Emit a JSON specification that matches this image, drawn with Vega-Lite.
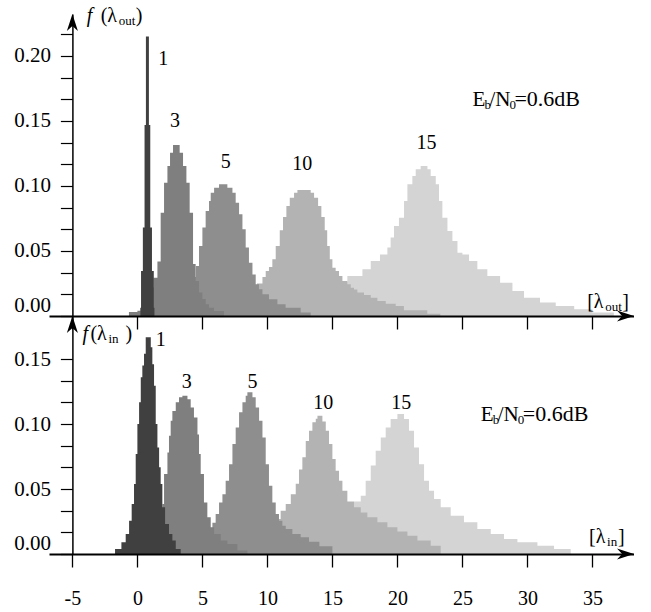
{
  "$schema": "https://vega.github.io/schema/vega-lite/v6.json",
  "autosize": {"type": "pad"},
  "padding": {"left": 13, "top": 5, "right": 0, "bottom": 0},
  "spacing": 0,
  "bounds": "flush",
  "config": {
    "view": {"stroke": null},
    "font": "Liberation Serif",
    "axis": {"domainColor": "black", "tickColor": "black", "labelColor": "black", "labelFont": "Liberation Serif", "grid": false},
    "text": {"font": "Liberation Serif", "color": "black"}
  },
  "datasets": {
    "out1": [{"x":0.23,"y":0.0064},{"x":0.28,"y":0.0346},{"x":0.42,"y":0.068},{"x":0.55,"y":0.147},{"x":0.655,"y":0.215},{"x":0.885,"y":0.147},{"x":0.99,"y":0.068},{"x":1.12,"y":0.0346},{"x":1.26,"y":0.0064},{"x":1.31,"y":0}],
    "out3": [{"x":-0.65,"y":0.003},{"x":0.0,"y":0.004},{"x":0.25,"y":0.006},{"x":0.5,"y":0.01},{"x":0.75,"y":0.015},{"x":1.0,"y":0.022},{"x":1.23,"y":0.0295},{"x":1.54,"y":0.042},{"x":1.79,"y":0.0795},{"x":2.05,"y":0.1025},{"x":2.31,"y":0.1154},{"x":2.51,"y":0.1256},{"x":2.74,"y":0.1315},{"x":3.25,"y":0.1256},{"x":3.51,"y":0.1154},{"x":3.77,"y":0.1025},{"x":4.02,"y":0.0795},{"x":4.28,"y":0.04},{"x":4.48,"y":0.027},{"x":4.74,"y":0.018},{"x":5.0,"y":0.013},{"x":5.25,"y":0.009},{"x":5.51,"y":0.0064},{"x":5.89,"y":0.0038},{"x":6.66,"y":0}],
    "out5": [{"x":2.5,"y":0.002},{"x":2.75,"y":0.003},{"x":3.0,"y":0.006},{"x":3.25,"y":0.009},{"x":3.5,"y":0.013},{"x":3.75,"y":0.018},{"x":4.0,"y":0.024},{"x":4.25,"y":0.03},{"x":4.5,"y":0.0385},{"x":4.74,"y":0.0538},{"x":5.0,"y":0.068},{"x":5.25,"y":0.0808},{"x":5.51,"y":0.0885},{"x":5.64,"y":0.0949},{"x":5.9,"y":0.0987},{"x":6.28,"y":0.1013},{"x":6.92,"y":0.0987},{"x":7.31,"y":0.0949},{"x":7.56,"y":0.0872},{"x":7.82,"y":0.0782},{"x":8.08,"y":0.0667},{"x":8.33,"y":0.0526},{"x":8.58,"y":0.041},{"x":8.85,"y":0.032},{"x":9.1,"y":0.0244},{"x":9.35,"y":0.0205},{"x":9.62,"y":0.0167},{"x":10.12,"y":0.0128},{"x":10.77,"y":0.009},{"x":11.4,"y":0.0064},{"x":12.56,"y":0.0026},{"x":13.33,"y":0}],
    "out10": [{"x":5.5,"y":0.002},{"x":6.0,"y":0.003},{"x":6.5,"y":0.004},{"x":7.0,"y":0.006},{"x":7.5,"y":0.008},{"x":8.0,"y":0.011},{"x":8.5,"y":0.015},{"x":8.85,"y":0.02},{"x":9.2,"y":0.025},{"x":9.62,"y":0.03},{"x":9.87,"y":0.0346},{"x":10.12,"y":0.0377},{"x":10.38,"y":0.0436},{"x":10.64,"y":0.0538},{"x":10.95,"y":0.0659},{"x":11.2,"y":0.0762},{"x":11.46,"y":0.0846},{"x":11.72,"y":0.091},{"x":12.05,"y":0.0949},{"x":12.31,"y":0.0969},{"x":13.33,"y":0.0949},{"x":13.59,"y":0.091},{"x":13.9,"y":0.0846},{"x":14.15,"y":0.0762},{"x":14.41,"y":0.0659},{"x":14.6,"y":0.0538},{"x":14.8,"y":0.0436},{"x":15.0,"y":0.0372},{"x":15.25,"y":0.0346},{"x":15.51,"y":0.0308},{"x":15.77,"y":0.0269},{"x":16.15,"y":0.0244},{"x":16.41,"y":0.0218},{"x":16.66,"y":0.0203},{"x":16.92,"y":0.018},{"x":17.43,"y":0.0162},{"x":17.95,"y":0.0141},{"x":18.46,"y":0.0115},{"x":19.1,"y":0.0095},{"x":19.87,"y":0.0077},{"x":20.5,"y":0.0044},{"x":22.3,"y":0.0018},{"x":23.3,"y":0}],
    "out15": [{"x":10.5,"y":0.002},{"x":11.0,"y":0.003},{"x":11.5,"y":0.004},{"x":12.0,"y":0.005},{"x":12.5,"y":0.007},{"x":13.0,"y":0.009},{"x":13.5,"y":0.012},{"x":14.0,"y":0.015},{"x":14.5,"y":0.018},{"x":15.0,"y":0.021},{"x":15.5,"y":0.024},{"x":15.77,"y":0.026},{"x":16.15,"y":0.0308},{"x":17.31,"y":0.0359},{"x":17.95,"y":0.0423},{"x":18.66,"y":0.0474},{"x":19.23,"y":0.0526},{"x":19.48,"y":0.0603},{"x":19.74,"y":0.0692},{"x":20.12,"y":0.0756},{"x":20.51,"y":0.0885},{"x":20.77,"y":0.1013},{"x":21.15,"y":0.1077},{"x":21.41,"y":0.1128},{"x":21.79,"y":0.1154},{"x":22.31,"y":0.1128},{"x":22.56,"y":0.1077},{"x":22.95,"y":0.1013},{"x":23.2,"y":0.0885},{"x":23.46,"y":0.0756},{"x":23.85,"y":0.0654},{"x":24.23,"y":0.0577},{"x":24.62,"y":0.0487},{"x":25.0,"y":0.0474},{"x":25.51,"y":0.0423},{"x":26.15,"y":0.0359},{"x":26.92,"y":0.0308},{"x":27.9,"y":0.0256},{"x":28.85,"y":0.0192},{"x":29.74,"y":0.0141},{"x":30.97,"y":0.0103},{"x":32.18,"y":0.0077},{"x":33.6,"y":0.0051},{"x":35.0,"y":0.0026},{"x":36.65,"y":0}],
    "in1": [{"x":-1.72,"y":0.0038},{"x":-1.23,"y":0.009},{"x":-0.9,"y":0.0154},{"x":-0.64,"y":0.0256},{"x":-0.44,"y":0.0385},{"x":-0.26,"y":0.0538},{"x":-0.13,"y":0.077},{"x":0.0,"y":0.1},{"x":0.13,"y":0.1167},{"x":0.26,"y":0.136},{"x":0.38,"y":0.145},{"x":0.51,"y":0.154},{"x":0.64,"y":0.1667},{"x":1.03,"y":0.159},{"x":1.15,"y":0.146},{"x":1.28,"y":0.1295},{"x":1.41,"y":0.1},{"x":1.54,"y":0.082},{"x":1.67,"y":0.0667},{"x":1.79,"y":0.0538},{"x":1.92,"y":0.0359},{"x":2.13,"y":0.023},{"x":2.43,"y":0.0154},{"x":2.69,"y":0.0103},{"x":2.95,"y":0.0038},{"x":3.33,"y":0}],
    "in3": [{"x":0.5,"y":0.002},{"x":0.75,"y":0.004},{"x":1.0,"y":0.008},{"x":1.25,"y":0.013},{"x":1.5,"y":0.02},{"x":1.75,"y":0.028},{"x":1.92,"y":0.0385},{"x":2.05,"y":0.0615},{"x":2.31,"y":0.078},{"x":2.43,"y":0.091},{"x":2.56,"y":0.1025},{"x":2.69,"y":0.11},{"x":2.95,"y":0.1167},{"x":3.2,"y":0.1205},{"x":3.46,"y":0.1218},{"x":3.85,"y":0.119},{"x":4.1,"y":0.1128},{"x":4.35,"y":0.105},{"x":4.62,"y":0.092},{"x":4.74,"y":0.077},{"x":4.87,"y":0.0615},{"x":5.12,"y":0.0397},{"x":5.38,"y":0.0282},{"x":5.64,"y":0.0205},{"x":5.9,"y":0.0154},{"x":6.41,"y":0.0103},{"x":6.92,"y":0.0077},{"x":7.69,"y":0.0026},{"x":8.46,"y":0}],
    "in5": [{"x":3.0,"y":0.002},{"x":3.5,"y":0.003},{"x":4.0,"y":0.005},{"x":4.5,"y":0.008},{"x":5.0,"y":0.012},{"x":5.38,"y":0.018},{"x":5.77,"y":0.024},{"x":6.02,"y":0.0308},{"x":6.28,"y":0.0397},{"x":6.54,"y":0.046},{"x":6.79,"y":0.0564},{"x":7.05,"y":0.069},{"x":7.31,"y":0.0846},{"x":7.56,"y":0.0974},{"x":7.82,"y":0.109},{"x":8.08,"y":0.1167},{"x":8.33,"y":0.1218},{"x":8.46,"y":0.1244},{"x":8.85,"y":0.1205},{"x":9.1,"y":0.1128},{"x":9.36,"y":0.1025},{"x":9.62,"y":0.0897},{"x":9.87,"y":0.069},{"x":10.12,"y":0.0526},{"x":10.38,"y":0.0397},{"x":10.64,"y":0.0308},{"x":10.89,"y":0.0256},{"x":11.15,"y":0.0218},{"x":11.41,"y":0.0192},{"x":11.92,"y":0.0154},{"x":12.56,"y":0.0128},{"x":13.2,"y":0.0095},{"x":14.0,"y":0.006},{"x":15.0,"y":0}],
    "in10": [{"x":7.5,"y":0.003},{"x":8.0,"y":0.005},{"x":8.5,"y":0.008},{"x":9.0,"y":0.012},{"x":9.5,"y":0.017},{"x":10.0,"y":0.022},{"x":10.5,"y":0.027},{"x":11.02,"y":0.0333},{"x":11.41,"y":0.0385},{"x":11.8,"y":0.046},{"x":12.18,"y":0.054},{"x":12.43,"y":0.065},{"x":12.69,"y":0.0744},{"x":12.95,"y":0.087},{"x":13.2,"y":0.0949},{"x":13.46,"y":0.1013},{"x":13.72,"y":0.104},{"x":13.85,"y":0.1064},{"x":14.23,"y":0.102},{"x":14.49,"y":0.0949},{"x":14.74,"y":0.0846},{"x":15.0,"y":0.073},{"x":15.25,"y":0.064},{"x":15.51,"y":0.0564},{"x":15.77,"y":0.0487},{"x":16.15,"y":0.0403},{"x":16.66,"y":0.0359},{"x":17.18,"y":0.032},{"x":17.69,"y":0.0282},{"x":18.46,"y":0.0244},{"x":19.23,"y":0.0205},{"x":20.0,"y":0.0174},{"x":20.77,"y":0.0141},{"x":21.54,"y":0.0103},{"x":22.56,"y":0.0064},{"x":23.33,"y":0}],
    "in15": [{"x":12.0,"y":0.003},{"x":13.0,"y":0.006},{"x":14.0,"y":0.01},{"x":15.0,"y":0.015},{"x":15.5,"y":0.02},{"x":16.0,"y":0.025},{"x":16.4,"y":0.03},{"x":16.66,"y":0.0403},{"x":17.18,"y":0.0449},{"x":17.56,"y":0.0564},{"x":17.95,"y":0.068},{"x":18.33,"y":0.0795},{"x":18.72,"y":0.0897},{"x":19.1,"y":0.0974},{"x":19.48,"y":0.1038},{"x":20.0,"y":0.1077},{"x":20.51,"y":0.1038},{"x":20.89,"y":0.0949},{"x":21.28,"y":0.082},{"x":21.66,"y":0.069},{"x":22.05,"y":0.0564},{"x":22.43,"y":0.0487},{"x":22.82,"y":0.0423},{"x":23.33,"y":0.0359},{"x":24.1,"y":0.0295},{"x":25.12,"y":0.0244},{"x":26.15,"y":0.0192},{"x":27.18,"y":0.0154},{"x":28.2,"y":0.0115},{"x":29.23,"y":0.009},{"x":30.77,"y":0.0064},{"x":32.05,"y":0.0038},{"x":33.33,"y":0}]
  },
  "vconcat": [
    {
      "width": 585,
      "height": 302,
      "encoding": {
        "x": {"field": "x", "type": "quantitative", "scale": {"domain": [-6.8, 38.2], "nice": false, "zero": false},
              "axis": {"values": [-5,0,5,10,15,20,25,30,35], "labels": false, "tickSize": 13, "tickWidth": 1.3, "domainWidth": 1.8, "title": null, "zindex": 1}},
        "y": {"field": "y", "type": "quantitative", "stack": null, "scale": {"domain": [0, 0.2323], "nice": false},
              "axis": {"values": [0,0.016667,0.033333,0.05,0.066667,0.083333,0.1,0.116667,0.133333,0.15,0.166667,0.183333,0.2,0.216667],
                       "tickSize": 12, "tickWidth": 1.2, "domainWidth": 1.5, "labelFontSize": 21, "labelPadding": 10, "labelOverlap": false,
                       "labelExpr": "abs(datum.value*20-round(datum.value*20))<0.01 ? format(datum.value,'.2f') : ''",
                       "labelOffset": {"condition": {"test": "datum.value == 0", "value": -11}, "value": 0},
                       "offset": -23.4, "title": null, "zindex": 1}}
      },
      "layer": [
        {"data": {"name": "out15"}, "mark": {"type": "area", "interpolate": "step-after", "color": "#d4d4d4"}},
        {"data": {"name": "out10"}, "mark": {"type": "area", "interpolate": "step-after", "color": "#b3b3b3"}},
        {"data": {"name": "out5"}, "mark": {"type": "area", "interpolate": "step-after", "color": "#8e8e8e"}},
        {"data": {"name": "out3"}, "mark": {"type": "area", "interpolate": "step-after", "color": "#7f7f7f"}},
        {"data": {"name": "out1"}, "mark": {"type": "area", "interpolate": "step-after", "color": "#404040"}},
        {"data": {"values": [{"x":1.98,"y":0.198,"t":"1"},{"x":2.9,"y":0.15,"t":"3"},{"x":6.8,"y":0.1185,"t":"5"},{"x":12.69,"y":0.117,"t":"10"},{"x":22.24,"y":0.1333,"t":"15"}]},
         "mark": {"type": "text", "fontSize": 20, "align": "center", "baseline": "middle"},
         "encoding": {"text": {"field": "t"}}},
        {"data": {"values": [{"x": -3.9, "y": 0.2262}]},
         "layer": [
           {"mark": {"type": "text", "text": "f", "fontStyle": "italic", "align": "left", "baseline": "alphabetic", "fontSize": 20}},
           {"mark": {"type": "text", "text": "(λ", "align": "left", "baseline": "alphabetic", "fontSize": 20, "dx": 14}},
           {"mark": {"type": "text", "text": "out", "align": "left", "baseline": "alphabetic", "fontSize": 13, "dx": 32, "dy": 3}},
           {"mark": {"type": "text", "text": ")", "align": "left", "baseline": "alphabetic", "fontSize": 20, "dx": 49}}
         ]},
        {"data": {"values": [{"x": 34.6, "y": 0.0064}]},
         "layer": [
           {"mark": {"type": "text", "text": "[λ", "align": "left", "baseline": "alphabetic", "fontSize": 20}},
           {"mark": {"type": "text", "text": "out", "align": "left", "baseline": "alphabetic", "fontSize": 13, "dx": 18, "dy": 3}},
           {"mark": {"type": "text", "text": "]", "align": "left", "baseline": "alphabetic", "fontSize": 20, "dx": 35}}
         ]},
        {"data": {"values": [{"x": 25.77, "y": 0.1615}]},
         "layer": [
           {"mark": {"type": "text", "text": "E", "align": "left", "baseline": "alphabetic", "fontSize": 21}},
           {"mark": {"type": "text", "text": "b", "align": "left", "baseline": "alphabetic", "fontSize": 13, "dx": 12, "dy": 3}},
           {"mark": {"type": "text", "text": "/N", "align": "left", "baseline": "alphabetic", "fontSize": 21, "dx": 17}},
           {"mark": {"type": "text", "text": "0", "align": "left", "baseline": "alphabetic", "fontSize": 13, "dx": 37, "dy": 3}},
           {"mark": {"type": "text", "text": "=0.6dB", "align": "left", "baseline": "alphabetic", "fontSize": 22, "dx": 42}}
         ]},
        {"data": {"values": [{"x": 38.2, "y": 0}]},
         "mark": {"type": "point", "shape": "M0,0L-2,-0.65L-1.4,0L-2,0.65Z", "filled": true, "color": "black", "opacity": 1, "size": 289, "strokeWidth": 0}},
        {"data": {"values": [{"x": -5, "y": 0.2323}]},
         "mark": {"type": "point", "shape": "M0,0L-0.65,2L0,1.4L0.65,2Z", "filled": true, "color": "black", "opacity": 1, "size": 289, "strokeWidth": 0}}
      ]
    },
    {
      "width": 585,
      "height": 238,
      "encoding": {
        "x": {"field": "x", "type": "quantitative", "scale": {"domain": [-6.8, 38.2], "nice": false, "zero": false},
              "axis": {"values": [-5,0,5,10,15,20,25,30,35], "labelFontSize": 20, "labelPadding": 21, "tickSize": 13, "tickWidth": 1.3, "domainWidth": 1.8, "title": null, "zindex": 1, "labelFlush": false,
                       "labelExpr": "datum.value < 0 ? '-' + abs(datum.value) : '' + datum.value"}},
        "y": {"field": "y", "type": "quantitative", "stack": null, "scale": {"domain": [0, 0.1831], "nice": false},
              "axis": {"values": [0,0.016667,0.033333,0.05,0.066667,0.083333,0.1,0.116667,0.133333,0.15],
                       "tickSize": 12, "tickWidth": 1.2, "domainWidth": 1.5, "labelFontSize": 21, "labelPadding": 10, "labelOverlap": false,
                       "labelExpr": "abs(datum.value*20-round(datum.value*20))<0.01 ? format(datum.value,'.2f') : ''",
                       "labelOffset": {"condition": {"test": "datum.value == 0", "value": -11}, "value": 0},
                       "offset": -23.4, "title": null, "zindex": 1}}
      },
      "layer": [
        {"data": {"name": "in15"}, "mark": {"type": "area", "interpolate": "step-after", "color": "#d4d4d4"}},
        {"data": {"name": "in10"}, "mark": {"type": "area", "interpolate": "step-after", "color": "#b3b3b3"}},
        {"data": {"name": "in5"}, "mark": {"type": "area", "interpolate": "step-after", "color": "#8e8e8e"}},
        {"data": {"name": "in3"}, "mark": {"type": "area", "interpolate": "step-after", "color": "#7f7f7f"}},
        {"data": {"name": "in1"}, "mark": {"type": "area", "interpolate": "step-after", "color": "#404040"}},
        {"data": {"values": [{"x":1.79,"y":0.165,"t":"1"},{"x":3.8,"y":0.132,"t":"3"},{"x":8.85,"y":0.132,"t":"5"},{"x":14.3,"y":0.116,"t":"10"},{"x":20.3,"y":0.116,"t":"15"}]},
         "mark": {"type": "text", "fontSize": 20, "align": "center", "baseline": "middle"},
         "encoding": {"text": {"field": "t"}}},
        {"data": {"values": [{"x": -4.23, "y": 0.1648}]},
         "layer": [
           {"mark": {"type": "text", "text": "f", "fontStyle": "italic", "align": "left", "baseline": "alphabetic", "fontSize": 20}},
           {"mark": {"type": "text", "text": "(λ", "align": "left", "baseline": "alphabetic", "fontSize": 20, "dx": 8}},
           {"mark": {"type": "text", "text": "in", "align": "left", "baseline": "alphabetic", "fontSize": 13, "dx": 26, "dy": 3}},
           {"mark": {"type": "text", "text": ")", "align": "left", "baseline": "alphabetic", "fontSize": 20, "dx": 43}}
         ]},
        {"data": {"values": [{"x": 34.74, "y": 0.0082}]},
         "layer": [
           {"mark": {"type": "text", "text": "[λ", "align": "left", "baseline": "alphabetic", "fontSize": 20}},
           {"mark": {"type": "text", "text": "in", "align": "left", "baseline": "alphabetic", "fontSize": 13, "dx": 18, "dy": 3}},
           {"mark": {"type": "text", "text": "]", "align": "left", "baseline": "alphabetic", "fontSize": 20, "dx": 29}}
         ]},
        {"data": {"values": [{"x": 26.41, "y": 0.1025}]},
         "layer": [
           {"mark": {"type": "text", "text": "E", "align": "left", "baseline": "alphabetic", "fontSize": 21}},
           {"mark": {"type": "text", "text": "b", "align": "left", "baseline": "alphabetic", "fontSize": 13, "dx": 12, "dy": 3}},
           {"mark": {"type": "text", "text": "/N", "align": "left", "baseline": "alphabetic", "fontSize": 21, "dx": 17}},
           {"mark": {"type": "text", "text": "0", "align": "left", "baseline": "alphabetic", "fontSize": 13, "dx": 37, "dy": 3}},
           {"mark": {"type": "text", "text": "=0.6dB", "align": "left", "baseline": "alphabetic", "fontSize": 22, "dx": 42}}
         ]},
        {"data": {"values": [{"x": 38.2, "y": 0}]},
         "mark": {"type": "point", "shape": "M0,0L-2,-0.65L-1.4,0L-2,0.65Z", "filled": true, "color": "black", "opacity": 1, "size": 289, "strokeWidth": 0}},
        {"data": {"values": [{"x": -5, "y": 0.1831}]},
         "mark": {"type": "point", "shape": "M0,0L-0.65,2L0,1.4L0.65,2Z", "filled": true, "color": "black", "opacity": 1, "size": 289, "strokeWidth": 0}}
      ]
    }
  ]
}
